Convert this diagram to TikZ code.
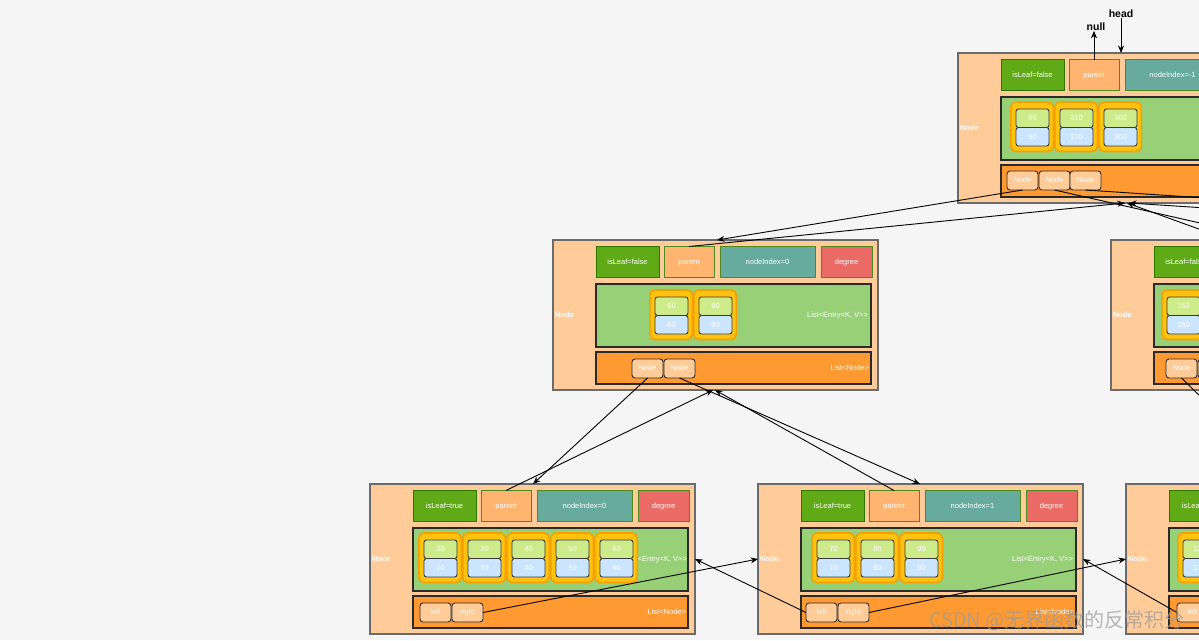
\documentclass[tikz,border=0pt]{standalone}
\usepackage{fontspec}
\setmainfont{Liberation Sans}
\newfontfamily\cjkfont{Noto Sans CJK SC}
\usetikzlibrary{arrows.meta}
\definecolor{bgc}{HTML}{F5F5F5}
\definecolor{peach}{HTML}{FFCC99}
\definecolor{outerline}{HTML}{6B6B6B}
\definecolor{leafc}{HTML}{60A917}
\definecolor{leafd}{HTML}{2D7600}
\definecolor{hdrd}{HTML}{4E8A1E}
\definecolor{parc}{HTML}{FFB570}
\definecolor{idxc}{HTML}{67AB9F}
\definecolor{degc}{HTML}{EA6B66}
\definecolor{entc}{HTML}{97D077}
\definecolor{nlc}{HTML}{FF9A33}
\definecolor{boxd}{HTML}{2A2A2A}
\definecolor{wrapc}{HTML}{FFC20E}
\definecolor{wrapd}{HTML}{F5A000}
\definecolor{keyc}{HTML}{CDEB8B}
\definecolor{valc}{HTML}{CCE5FF}
\definecolor{kvd}{HTML}{36393D}
\definecolor{wmc}{HTML}{9A9A9A}

\newcommand{\smf}{\fontsize{7.5}{9}\selectfont}

\tikzset{
 every node/.style={inner sep=0pt, outer sep=0pt},
 outerbox/.style={draw=outerline, fill=peach, line width=1.1pt, minimum width=325pt, minimum height=150pt, anchor=north west},
 nodelab/.style={anchor=west, text=white, font=\smf\bfseries},
 hdrbox/.style={draw=hdrd, line width=1pt, minimum height=31pt, anchor=north west, text=white, font=\smf, text height=5.4pt, text depth=1.4pt},
 listbox/.style={draw=boxd, line width=1.2pt, minimum width=275pt, anchor=north west},
 listlab/.style={anchor=east, text=white, font=\smf},
 wrapbox/.style={draw=wrapd, fill=wrapc, line width=1.6pt, rounded corners=5pt, minimum width=42.5pt, minimum height=49.5pt, anchor=north west},
 keybox/.style={draw=kvd, line width=0.9pt, rounded corners=2.5pt, minimum width=33pt, minimum height=18.5pt, anchor=north west, text=white, font=\smf, text height=5.4pt, text depth=0.6pt},
 cellbox/.style={draw=boxd, fill=peach, line width=0.9pt, rounded corners=3pt, minimum width=31pt, minimum height=19pt, anchor=north west, text=white, font=\smf, text height=5.4pt, text depth=0.6pt},
 conn/.style={draw=black, line width=0.9pt, -{Stealth[length=7.5pt,width=6pt]}},
 toplab/.style={font=\fontsize{10.5}{12}\selectfont\bfseries, text=black},
}

\newcommand{\bframe}[5]{%
 \node[outerbox] (#1) at (0,0) {};
 \node[nodelab] (#1lab) at (2,75) {Node};
 \node[hdrbox, fill=leafc, draw=leafd, minimum width=63pt] (#1leaf) at (43,6.5) {#2};
 \node[hdrbox, fill=parc, minimum width=50pt] (#1par) at (111,6.5) {parent};
 \node[hdrbox, fill=idxc, minimum width=95pt] (#1idx) at (167,6.5) {#3};
 \node[hdrbox, fill=degc, minimum width=51pt] (#1deg) at (268,6.5) {degree};
 \node[listbox, fill=entc, minimum height=63pt] (#1ent) at (43,44) {};
 \node[listlab] (#1entlab) at (315,75.5) {#4};
 \node[listbox, fill=nlc, minimum height=32pt] (#1nl) at (43,112) {};
 \node[listlab] (#1nllab) at (316,128) {#5};
}
\newcommand{\kvpair}[4]{%
 \node[wrapbox] (#1) at (#2+0.8,#3) {};
 \node[keybox, fill=keyc] (#1k) at (#2+6,#3+7) {#4};
 \node[keybox, fill=valc] (#1v) at (#2+6,#3+25.5) {#4};
}
\newcommand{\ncell}[4]{\node[cellbox] (#1) at (#2,#3) {#4};}

\begin{document}
\begin{tikzpicture}[x=1pt, y=-1pt]
\useasboundingbox (0,0) rectangle (1199,640);
\clip (0,0) rectangle (1199,640);
\fill[bgc] (0,0) rectangle (1199,640);

% root
\begin{scope}[shift={(958,53)}]
\bframe{T}{isLeaf=false}{nodeIndex=-1}{List<Entry<K, V>{}>}{List<Node>}
\kvpair{Te1}{52}{49}{90}
\kvpair{Te2}{96}{49}{210}
\kvpair{Te3}{140}{49}{300}
\ncell{Tc1}{49}{118}{Node}
\ncell{Tc2}{81}{118}{Node}
\ncell{Tc3}{112}{118}{Node}
\end{scope}

% middle left
\begin{scope}[shift={(553,240)}]
\bframe{M}{isLeaf=false}{nodeIndex=0}{List<Entry<K, V>{}>}{List<Node>}
\kvpair{Me1}{96}{50}{60}
\kvpair{Me2}{140}{50}{90}
\ncell{Mc1}{79}{119}{Node}
\ncell{Mc2}{111}{119}{Node}
\end{scope}

% middle right
\begin{scope}[shift={(1111,240)}]
\bframe{R}{isLeaf=false}{nodeIndex=1}{List<Entry<K, V>{}>}{List<Node>}
\kvpair{Re1}{50}{50}{150}
\ncell{Rc1}{55}{119}{Node}
\ncell{Rc2}{87}{119}{Node}
\end{scope}

% bottom left
\begin{scope}[shift={(370,484)}]
\bframe{BL}{isLeaf=true}{nodeIndex=0}{}{List<Node>}
\kvpair{BLe1}{48}{49}{20}
\kvpair{BLe2}{92}{49}{30}
\kvpair{BLe3}{136}{49}{40}
\kvpair{BLe4}{180}{49}{50}
\kvpair{BLe5}{224}{49}{60}
\node[listlab] (BLentlabel) at (317,75.5) {<Entry<K, V>{}>};
\ncell{BLc1}{50}{119}{left}
\ncell{BLc2}{82}{119}{right}
\end{scope}

% bottom middle
\begin{scope}[shift={(758,484)}]
\bframe{BM}{isLeaf=true}{nodeIndex=1}{List<Entry<K, V>{}>}{List<Node>}
\kvpair{BMe1}{53}{49}{70}
\kvpair{BMe2}{97}{49}{80}
\kvpair{BMe3}{141}{49}{90}
\ncell{BMc1}{48}{119}{left}
\ncell{BMc2}{80}{119}{right}
\end{scope}

% bottom right
\begin{scope}[shift={(1126,484)}]
\bframe{BR}{isLeaf=true}{nodeIndex=2}{List<Entry<K, V>{}>}{List<Node>}
\kvpair{BRe1}{51}{49}{120}
\ncell{BRc1}{51}{119}{left}
\ncell{BRc2}{83}{119}{right}
\end{scope}

% off-picture third child
\coordinate (Stop) at (1833,240);
\coordinate (Spar) at (1806,247);

% head / null
\node[toplab] (head) at (1121,14) {head};
\node[toplab] (null) at (1096,27) {null};
\draw[conn] (head.south) -- (head.south |- T.north);
\draw[conn] (Tpar.north) -- (Tpar.north |- null.south);

% root <-> children
\draw[conn] (Tc1.south) -- ([xshift=164pt]M.north west);
\draw[conn] (Mpar.north) -- ([xshift=167pt]T.south west);
\draw[conn] (Tc2.south) -- ([xshift=164pt]R.north west);
\draw[conn] (Rpar.north) -- ([xshift=169pt]T.south west);
\draw[conn] (Tc3.south) -- (Stop);
\draw[conn] (Spar) -- ([xshift=171pt]T.south west);

% middle left <-> leaves
\draw[conn] (Mc1.south) -- ([xshift=163pt]BL.north west);
\draw[conn] (BLpar.north) -- ([xshift=160pt]M.south west);
\draw[conn] (Mc2.south) -- ([xshift=162pt]BM.north west);
\draw[conn] (BMpar.north) -- ([xshift=162pt]M.south west);

% middle right -> leaf
\draw[conn] (Rc1.south) -- ([xshift=164pt]BR.north west);

% sibling links
\draw[conn] (BLc2.east) -- (BM.west);
\draw[conn] (BMc1.west) -- (BL.east);
\draw[conn] (BMc2.east) -- (BR.west);
\draw[conn] (BRc1.west) -- (BM.east);

% watermark
\node[font=\cjkfont\fontsize{20}{20}\selectfont, text=wmc, opacity=0.7, anchor=west] (wm) at (929,621) {CSDN @无界函数的反常积分};
\end{tikzpicture}
\end{document}
